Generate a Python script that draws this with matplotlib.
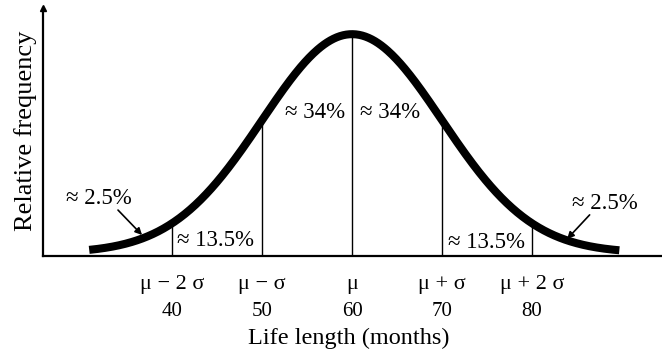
import numpy as np
import matplotlib.pyplot as plt

plt.rcParams['font.family'] = ['Liberation Serif', 'DejaVu Serif']

# normal model for life length (months)
mu = 60
sigma = 10
curve_start = 30.8
curve_end = 89.7

marks = [40, 50, 60, 70, 80]
mark_numbers = ["40", "50", "60", "70", "80"]
mark_symbols = ["\u03bc \u2212 2 \u03c3", "\u03bc \u2212 \u03c3", "\u03bc",
                "\u03bc + \u03c3", "\u03bc + 2 \u03c3"]
area_labels = ["\u2248 2.5%", "\u2248 13.5%", "\u2248 34%", "\u2248 34%", "\u2248 13.5%", "\u2248 2.5%"]


def density(x):
    # scaled so that the peak is 1
    return np.exp(-0.5 * ((np.asarray(x) - mu) / sigma) ** 2)


fig = plt.figure(figsize=(6.62, 3.54), dpi=100)
ax = fig.add_axes([0.065, 0.277, 0.935, 0.7])

y0 = -0.0137
ax.set_xlim(25.67, 94.44)
ax.set_ylim(y0, 1.119)

x = np.linspace(curve_start, curve_end, 500)
ax.plot(x, density(x), color="black", lw=5.8, solid_capstyle="butt")
ax.vlines(marks, y0, density(marks), color="black", lw=1)

for side in ["top", "right"]:
    ax.spines[side].set_visible(False)
for side in ["left", "bottom"]:
    ax.spines[side].set_linewidth(1.6)
ax.plot([0], [1], marker="^", ms=5, color="black", transform=ax.transAxes, clip_on=False)

ax.set_yticks([])
ax.set_xticks(marks)
ax.set_xticklabels(mark_numbers, fontsize=15)
ax.tick_params(axis="x", length=0, pad=33)

# symbolic labels above the numbers
trans = ax.get_xaxis_transform()
for m, s in zip(marks, mark_symbols):
    ax.text(m, -0.115, s, transform=trans, fontsize=16, ha="center", va="center")

# area labels
ax.text(59.2, 0.644, area_labels[2], fontsize=16.5, ha="right", va="center")
ax.text(60.9, 0.644, area_labels[3], fontsize=16.5, ha="left", va="center")
ax.text(40.56, 0.059, area_labels[1], fontsize=16.5, ha="left", va="center")
ax.text(70.67, 0.05, area_labels[4], fontsize=16.5, ha="left", va="center")
ax.text(31.83, 0.247, area_labels[0], fontsize=16.5, ha="center", va="center")
ax.text(88.1, 0.228, area_labels[5], fontsize=16.5, ha="center", va="center")

arrow = dict(arrowstyle="-|>", color="black", lw=1.2, mutation_scale=10, shrinkA=0, shrinkB=0)
ax.annotate("", xy=(36.67, 0.082), xytext=(34.0, 0.196), arrowprops=arrow)
ax.annotate("", xy=(83.9, 0.064), xytext=(86.4, 0.174), arrowprops=arrow)

fig.text(0.038, 0.63, "Relative frequency", fontsize=19, rotation=90, ha="center", va="center")
fig.text(349 / 662, 16 / 354, "Life length (months)", fontsize=17.5, ha="center", va="center")

fig.savefig("out.png", dpi=100)
